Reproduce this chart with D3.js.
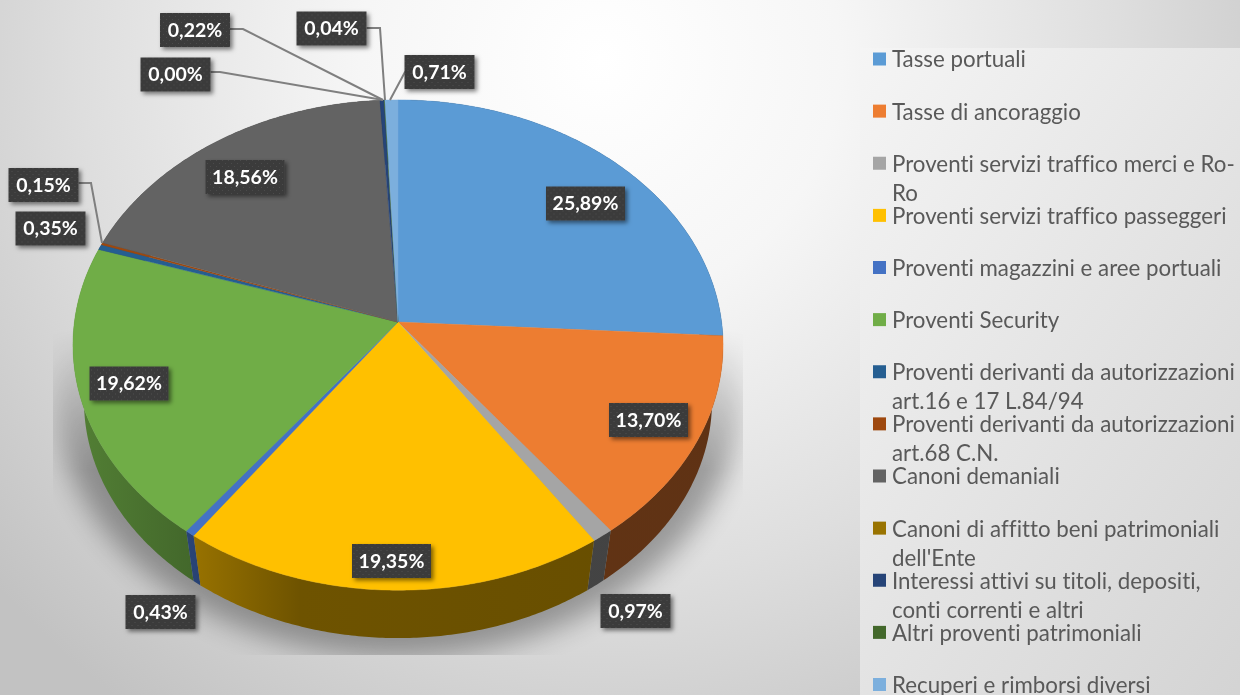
<!DOCTYPE html>
<html><head><meta charset="utf-8">
<script src="https://cdn.jsdelivr.net/npm/d3@7/dist/d3.min.js"></script>
<style>html,body{margin:0;padding:0;background:#eee;overflow:hidden}svg{display:block;filter:blur(0.45px);font-variant-ligatures:none}</style>
</head><body><div id="chart"></div>
<script>
const categories = ["Tasse portuali","Tasse di ancoraggio","Proventi servizi traffico merci e Ro-Ro","Proventi servizi traffico passeggeri","Proventi magazzini e aree portuali","Proventi Security","Proventi derivanti da autorizzazioni art.16 e 17 L.84/94","Proventi derivanti da autorizzazioni art.68 C.N.","Canoni demaniali","Canoni di affitto beni patrimoniali dell'Ente","Interessi attivi su titoli, depositi, conti correnti e altri","Altri proventi patrimoniali","Recuperi e rimborsi diversi"];
const legendLines = [["Tasse portuali"],["Tasse di ancoraggio"],["Proventi servizi traffico merci e Ro-","Ro"],["Proventi servizi traffico passeggeri"],["Proventi magazzini e aree portuali"],["Proventi Security"],["Proventi derivanti da autorizzazioni","art.16 e 17 L.84/94"],["Proventi derivanti da autorizzazioni","art.68 C.N."],["Canoni demaniali"],["Canoni di affitto beni patrimoniali","dell'Ente"],["Interessi attivi su titoli, depositi,","conti correnti e altri"],["Altri proventi patrimoniali"],["Recuperi e rimborsi diversi"]];
const values = [25.89,13.70,0.97,19.35,0.43,19.62,0.35,0.15,18.56,0.00,0.22,0.04,0.71];
const valueLabels = ["25,89%","13,70%","0,97%","19,35%","0,43%","19,62%","0,35%","0,15%","18,56%","0,00%","0,22%","0,04%","0,71%"];
const colors = ["#5B9BD5","#ED7D31","#A5A5A5","#FFC000","#4472C4","#70AD47","#255E91","#9E480E","#636363","#997300","#264478","#43682B","#7CAFDD"];
// label box centre relative to the chart centre, and optional leader elbows
const labelCentres = [[187.5,-118.5],[250.5,98],[237.5,289],[-6.5,239],[-237.5,290],[-269,61.5],[-347.5,-93.5],[-354.5,-137],[-153,-145],[-222.5,-247.5],[-203,-292],[-66.5,-293.5],[41.5,-250]];
const leaders = {7:[[-307,-139],[-296,-79]],9:[[-178,-250],[-15,-222]],10:[[-155,-293],[-15,-222]],11:[[-18,-294],[-13,-222]],12:[[7,-250],[-8,-222]]};

const W=1240,H=695,cx=398,cy=322,R=323.6,A=243,K=0.094,depthScale=0.966,depthY=57;
const svg=d3.select("#chart").append("svg").attr("width",W).attr("height",H).attr("viewBox",[0,0,W,H]);
const defs=svg.append("defs");

const bg=defs.append("radialGradient").attr("id","bg").attr("gradientUnits","userSpaceOnUse").attr("cx",600).attr("cy",60).attr("r",800);
[[0,"#ffffff"],[0.3,"#f6f6f6"],[0.65,"#dedede"],[1,"#c2c2c2"]].forEach(s=>bg.append("stop").attr("offset",s[0]).attr("stop-color",s[1]));
const lg=defs.append("linearGradient").attr("id","lg").attr("gradientUnits","userSpaceOnUse").attr("x1",860).attr("y1",48).attr("x2",1416).attr("y2",423);
[[0,"#f5f5f5"],[1,"#d4d4d4"]].forEach(s=>lg.append("stop").attr("offset",s[0]).attr("stop-color",s[1]));
const soft=defs.append("filter").attr("id","soft").attr("x","-20%").attr("y","-20%").attr("width","140%").attr("height","140%");
soft.append("feGaussianBlur").attr("stdDeviation",14);
const ds=defs.append("filter").attr("id","ds").attr("x","-20%").attr("y","-30%").attr("width","150%").attr("height","170%");
ds.append("feDropShadow").attr("dx",2.5).attr("dy",2.5).attr("stdDeviation",2).attr("flood-color","#000").attr("flood-opacity",0.5);
const pat=defs.append("pattern").attr("id","dots").attr("patternUnits","userSpaceOnUse").attr("width",6).attr("height",6);
pat.append("rect").attr("width",6).attr("height",6).attr("fill","#3b3b3b");
pat.append("rect").attr("x",1).attr("y",1).attr("width",1).attr("height",1).attr("fill","#4c4c4c");
pat.append("rect").attr("x",4).attr("y",4).attr("width",1).attr("height",1).attr("fill","#4c4c4c");
defs.append("clipPath").attr("id","shadowClip").append("rect").attr("x",53).attr("y",300).attr("width",690).attr("height",355);
const fade=defs.append("linearGradient").attr("id","fade").attr("gradientUnits","userSpaceOnUse").attr("x1",0).attr("x2",0).attr("y1",330).attr("y2",470);
[[0,"#000"],[1,"#fff"]].forEach(s=>fade.append("stop").attr("offset",s[0]).attr("stop-color",s[1]));
defs.append("mask").attr("id","shadowMask").attr("maskUnits","userSpaceOnUse").attr("x",0).attr("y",0).attr("width",W).attr("height",H)
  .append("rect").attr("width",W).attr("height",H).attr("fill","url(#fade)");

svg.append("rect").attr("width",W).attr("height",H).attr("fill","url(#bg)");
svg.append("rect").attr("x",860).attr("y",48).attr("width",380).attr("height",647).attr("fill","url(#lg)");

// perspective projection of the pie disc
const proj=(t,s=1,dy=0)=>{const u=Math.sin(t),v=Math.cos(t),d=1+K*v;return [cx+s*R*u/d,cy-s*A*v/d+dy];};
const pie=d3.pie().value(d=>d).sort(null)(values);
const arcPts=(a,b,s,dy)=>{const n=Math.max(2,Math.ceil((b-a)/0.01));return d3.range(n+1).map(i=>proj(a+(b-a)*i/n,s,dy));};
const line=d3.line();

// ground shadow
svg.append("g").attr("mask","url(#shadowMask)").append("g").attr("clip-path","url(#shadowClip)").append("ellipse")
  .attr("cx",cx).attr("cy",395).attr("rx",342).attr("ry",262).attr("fill","#000").attr("opacity",0.33).attr("filter","url(#soft)");

// side wall shading
const shade=[[73,0.74],[190,0.6],[300,0.43],[723,0.4]];
const shadeX=d3.scaleLinear().domain([73,723]).range([0,1]);
colors.forEach((c,i)=>{
  const g=defs.append("linearGradient").attr("id","side"+i).attr("gradientUnits","userSpaceOnUse").attr("x1",73).attr("x2",723).attr("y1",0).attr("y2",0);
  shade.forEach(s=>{const r=d3.rgb(c);g.append("stop").attr("offset",shadeX(s[0])).attr("stop-color",d3.rgb(r.r*s[1],r.g*s[1],r.b*s[1]).formatHex());});
});
const byDepth=pie.map((d,i)=>({d,i})).sort((p,q)=>Math.cos((q.d.startAngle+q.d.endAngle)/2)-Math.cos((p.d.startAngle+p.d.endAngle)/2));
svg.append("g").selectAll("path").data(byDepth).join("path")
  .attr("d",o=>line(arcPts(o.d.startAngle,o.d.endAngle,1,0).concat(arcPts(o.d.startAngle,o.d.endAngle,depthScale,depthY).reverse()))+"Z")
  .attr("fill",o=>`url(#side${o.i})`);
// top faces
svg.append("g").selectAll("path").data(pie).join("path")
  .attr("d",d=>line([[cx,cy]].concat(arcPts(d.startAngle,d.endAngle,1,0)))+"Z")
  .attr("fill",(d,i)=>colors[i]).attr("stroke",(d,i)=>colors[i]).attr("stroke-width",d=>d.value>0?0.4:0);

// leaders
svg.append("g").selectAll("path").data(Object.entries(leaders)).join("path")
  .attr("d",([i,p])=>{const c=labelCentres[+i];const side=c[0]<p[0][0]?1:-1;
    return line([[cx+c[0]+side*35,cy+p[0][1]]].concat(p.map(q=>[cx+q[0],cy+q[1]])));})
  .attr("fill","none").attr("stroke","#7f7f7f").attr("stroke-width",2);

// data labels
const lab=svg.append("g").selectAll("g").data(valueLabels).join("g")
  .attr("transform",(d,i)=>`translate(${cx+labelCentres[i][0]},${cy+labelCentres[i][1]})`);
lab.append("rect").attr("x",(d)=>d.length>5?-39.5:-35).attr("width",d=>d.length>5?79:70).attr("y",-17).attr("height",34)
  .attr("fill","url(#dots)").attr("filter","url(#ds)");
lab.append("text").text(d=>d).attr("text-anchor","middle").attr("dy","0.35em")
  .attr("font-family","Lato, sans-serif").attr("font-weight",700).attr("font-size",19.5).attr("fill","#fff");

// legend
const legY=d3.scaleLinear().domain([0,12]).range([59,684.5]);
const leg=svg.append("g").selectAll("g").data(categories).join("g").attr("transform",(d,i)=>`translate(873,${legY(i)})`);
leg.append("rect").attr("x",0).attr("y",-6.5).attr("width",13).attr("height",13).attr("fill",(d,i)=>colors[i]);
leg.each(function(d,i){
  d3.select(this).selectAll("text").data(legendLines[i]).join("text").text(t=>t)
    .attr("x",19).attr("y",(t,j)=>j*29).attr("dy","0.38em")
    .attr("font-family","Lato, sans-serif").attr("font-size",22.3).attr("fill","#595959");
});
</script></body></html>
